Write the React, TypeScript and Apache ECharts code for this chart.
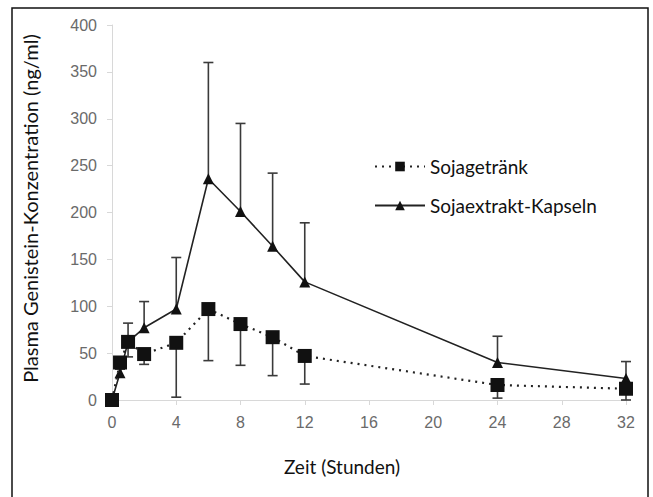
import React, { useEffect, useRef } from "react";
import * as echarts from "echarts";

const times = [0, 0.5, 1, 2, 4, 6, 8, 10, 12, 24, 32];
const drink = [0, 40, 62, 49, 61, 97, 81, 67, 47, 16, 12];
const drinkLow = [0, 33, 46, 38, 3, 42, 37, 26, 17, 2, 0];
const capsules = [0, 29, 62, 77, 97, 236, 201, 164, 126, 40, 23];
const capsulesHigh = [0, 33, 82, 105, 152, 360, 295, 242, 189, 68, 41];
const xTicks = [0, 4, 8, 12, 16, 20, 24, 28, 32];
const yTicks = [0, 50, 100, 150, 200, 250, 300, 350, 400];

const seriesNames = ["Sojagetränk", "Sojaextrakt-Kapseln"];

export default function App() {
  const ref = useRef<HTMLDivElement>(null);
  useEffect(() => {
    if (!ref.current) return;
    const chart = echarts.init(ref.current, null, { renderer: "svg" });
    const errRender = (capAtLow: boolean) => (params: any, api: any) => {
      const x = api.value(0);
      const lo = api.value(1);
      const hi = api.value(2);
      const p1 = api.coord([x, lo]);
      const p2 = api.coord([x, hi]);
      const pc = capAtLow ? p1 : p2;
      const st = { stroke: "#3a3a3a", lineWidth: 1.6 };
      return {
        type: "group",
        children: [
          { type: "line", shape: { x1: p1[0], y1: p1[1], x2: p2[0], y2: p2[1] }, style: st },
          { type: "line", shape: { x1: pc[0] - 5, y1: pc[1], x2: pc[0] + 5, y2: pc[1] }, style: st },
        ],
      };
    };
    const titleFont = "Lato, 'Noto Sans', sans-serif";
    chart.setOption({
      animation: false,
      backgroundColor: "#ffffff",
      grid: { left: 112, right: 27, top: 25, bottom: 97 },
      legend: {
        data: seriesNames,
        orient: "vertical",
        left: 369,
        top: 152,
        itemWidth: 50,
        itemHeight: 12,
        itemGap: 20,
        textStyle: { fontFamily: titleFont, fontSize: 19, color: "#111" },
      },
      xAxis: {
        type: "value",
        min: 0,
        max: 32,
        interval: 4,
        axisLine: { show: true, lineStyle: { color: "#d8d8d8", width: 1 } },
        axisTick: { show: true, length: 5, lineStyle: { color: "#d8d8d8" } },
        axisLabel: {
          margin: 14,
          fontFamily: "'Liberation Sans', Arial, sans-serif",
          fontSize: 16,
          color: "#6a6a6a",
          formatter: (v: number) => (xTicks.includes(v) ? String(v) : ""),
        },
        splitLine: { show: false },
      },
      yAxis: {
        type: "value",
        min: 0,
        max: 400,
        interval: 50,
        name: "Plasma Genistein-Konzentration (ng/ml)",
        nameLocation: "middle",
        nameGap: 72,
        nameTextStyle: { fontFamily: titleFont, fontSize: 20, color: "#111", padding: [0, 0, 0, 8] },
        axisLine: { show: true, lineStyle: { color: "#d8d8d8", width: 1 } },
        axisTick: { show: true, length: 5, lineStyle: { color: "#d8d8d8" } },
        axisLabel: {
          margin: 15,
          fontFamily: "'Liberation Sans', Arial, sans-serif",
          fontSize: 16,
          color: "#6a6a6a",
          formatter: (v: number) => (yTicks.includes(v) ? String(v) : ""),
        },
        splitLine: { show: false },
      },
      graphic: [
        {
          type: "rect",
          shape: { x: 12, y: 8, width: 636, height: 500 },
          style: { fill: "none", stroke: "#111", lineWidth: 1.5 },
          silent: true,
        },
        {
          type: "text",
          x: 342,
          y: 466,
          style: {
            text: "Zeit (Stunden)",
            fontFamily: titleFont,
            fontSize: 19,
            fill: "#111",
            align: "center",
            verticalAlign: "middle",
          },
        },
      ],
      series: [
        {
          type: "custom",
          name: "err1",
          renderItem: errRender(true),
          data: times.map((t, i) => [t, drinkLow[i], drink[i]]),
          encode: { x: 0, y: [1, 2] },
          z: 1,
        },
        {
          type: "custom",
          name: "err2",
          renderItem: errRender(false),
          data: times.map((t, i) => [t, capsules[i], capsulesHigh[i]]),
          encode: { x: 0, y: [1, 2] },
          z: 1,
        },
        {
          type: "line",
          name: seriesNames[0],
          data: times.map((t, i) => [t, drink[i]]),
          symbol: "rect",
          symbolSize: 14,
          color: "#111",
          itemStyle: { color: "#111" },
          lineStyle: { type: [2, 5], width: 2.2, color: "#222" },
          z: 3,
        },
        {
          type: "line",
          name: seriesNames[1],
          data: times.map((t, i) => [t, capsules[i]]),
          symbol: "triangle",
          symbolSize: 11,
          color: "#111",
          itemStyle: { color: "#111" },
          lineStyle: { type: "solid", width: 1.6, color: "#222" },
          z: 2,
        },
      ],
    });
    return () => chart.dispose();
  }, []);
  return (
    <div
      ref={ref}
      style={{ position: "fixed", left: 0, top: 0, width: 653, height: 497, background: "#fff" }}
    />
  );
}
